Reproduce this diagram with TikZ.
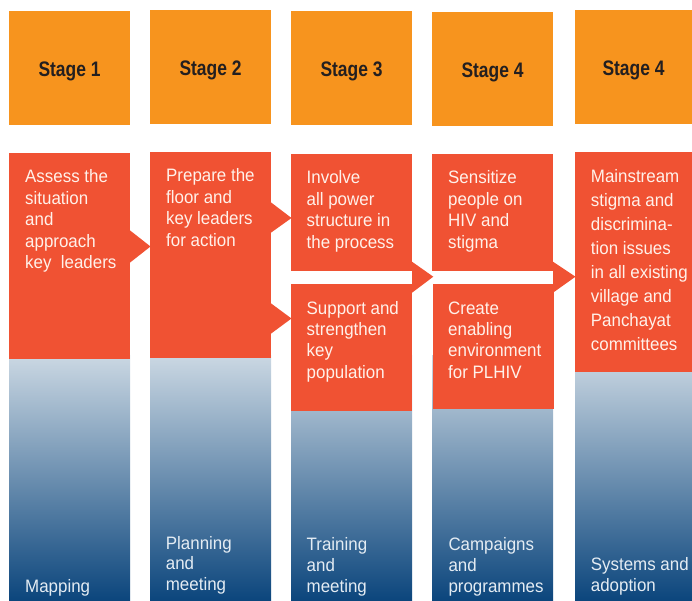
\documentclass[tikz,border=0pt]{standalone}
\usepackage{fontspec}
\setmainfont{Liberation Sans}
\newfontfamily\bodyfont{Liberation Sans}[FakeStretch=0.94]
\newfontfamily\stagefont{Liberation Sans}[FakeStretch=0.83]
\usetikzlibrary{calc}
\definecolor{stageorange}{HTML}{F7941E}
\definecolor{stepred}{HTML}{F05233}
\definecolor{stagetext}{HTML}{231F20}
\definecolor{redtext}{HTML}{FFF1EA}
\definecolor{bluetext}{HTML}{E4ECF3}
\definecolor{gradtop}{HTML}{CBD8E3}
\definecolor{gradbot}{HTML}{0B457C}
\tikzset{
  plainbox/.style={rectangle, inner sep=0pt, outer sep=0pt, draw=none},
  stagebox/.style={plainbox, fill=stageorange, minimum width=121pt, minimum height=114pt},
  redbox/.style={plainbox, fill=stepred, minimum width=121pt},
  gradcol/.style={plainbox, top color=gradtop, bottom color=gradbot, minimum width=121pt, minimum height=246pt},
  stagelabel/.style={inner sep=0pt, text=stagetext, font=\stagefont\bfseries\fontsize{21}{24}\selectfont, anchor=base},
  redlabel/.style={inner sep=0pt, text=redtext, align=left, anchor=base west, font=\bodyfont\fontsize{18}{21.4}\selectfont},
  bluelabel/.style={inner sep=0pt, text=bluetext, align=left, anchor=base west, font=\bodyfont\fontsize{18}{20.8}\selectfont},
  notch/.style={fill=stepred}
}
\begin{document}
\begin{tikzpicture}[x=1pt,y=-1pt]
\useasboundingbox (0,0) rectangle (692,601);

% stage header boxes
\node[stagebox] (s1) at (69.5,68) {};
\node[stagebox] (s2) at (210.5,67) {};
\node[stagebox] (s3) at (351.5,68) {};
\node[stagebox] (s4) at (492.5,69) {};
\node[stagebox, minimum width=117pt] (s5) at (633.5,67) {};
\node[stagelabel] (sl1) at ($(s1.center)+(0,8.3)$) {Stage 1};
\node[stagelabel] (sl2) at ($(s2.center)+(0,8.5)$) {Stage 2};
\node[stagelabel] (sl3) at ($(s3.center)+(0,8.3)$) {Stage 3};
\node[stagelabel] (sl4) at ($(s4.center)+(0,8.3)$) {Stage 4};
\node[stagelabel] (sl5) at ($(s5.center)+(0,8.5)$) {Stage 4};

% gradient columns
\node[gradcol] (g1) at (69.5,478) {};
\node[gradcol] (g2) at (210.5,478) {};
\node[gradcol] (g3) at (351.5,478) {};
\node[gradcol] (g4) at (492.5,478) {};
\node[gradcol, minimum width=117pt] (g5) at (633.5,478) {};

% red step boxes
\node[redbox, minimum height=206pt] (r1) at (69.5,256) {};
\node[redbox, minimum height=206pt] (r2) at (210.5,255) {};
\node[redbox, minimum height=117pt] (r3a) at (351.5,212.5) {};
\node[redbox, minimum height=127pt] (r3b) at (351.5,347.5) {};
\node[redbox, minimum height=117pt] (r4a) at (492.5,212.5) {};
\node[redbox, minimum height=125pt] (r4b) at (493.5,346.5) {};
\node[redbox, minimum width=117pt, minimum height=220pt] (r5) at (633.5,262) {};

% arrow notches (connectors)
\fill[notch] ($(r1.north east)+(-0.5,77)$) -- ($(r2.north west)+(0.5,94.5)$) -- ($(r1.north east)+(-0.5,110)$) -- cycle;
\fill[notch] ($(r2.north east)+(-0.5,50)$) -- ($(r3a.north west)+(0.5,64)$) -- ($(r2.north east)+(-0.5,81)$) -- cycle;
\fill[notch] ($(r2.north east)+(-0.5,151)$) -- ($(r3b.north west)+(0.5,34.5)$) -- ($(r2.north east)+(-0.5,182)$) -- cycle;
\fill[notch] ($(r3a.north east)+(0,107.7)$) -- ($(r4a.north west)+(1.3,122.7)$) -- ($(r3a.north east)+(0,138.7)$) -- cycle;
\fill[notch] ($(r4a.north east)+(0,107.7)$) -- ($(r5.north west)+(0.5,124.7)$) -- ($(r4a.north east)+(0,138.7)$) -- cycle;

% texts in red boxes (anchor = baseline of the last line)
\node[redlabel] (t1) at ($(r1.north west)+(16,115.6)$) {Assess the\\situation\\and\\approach\\key\ \ leaders};
\node[redlabel] (t2) at ($(r2.north west)+(16,94.2)$) {Prepare the\\floor and\\key leaders\\for action};
\node[redlabel] (t3a) at ($(r3a.north west)+(15.5,94.2)$) {Involve\\all power\\structure in\\the process};
\node[redlabel] (t3b) at ($(r3b.north west)+(15.5,94.2)$) {Support and\\strengthen\\key\\population};
\node[redlabel] (t4a) at ($(r4a.north west)+(16,94.2)$) {Sensitize\\people on\\HIV and\\stigma};
\node[redlabel] (t4b) at ($(r4b.north west)+(15,94.2)$) {Create\\enabling\\environment\\for PLHIV};
\node[redlabel, font=\bodyfont\fontsize{18}{24}\selectfont] (t5) at ($(r5.north west)+(15.7,198.7)$) {Mainstream\\stigma and\\discrimina-\\tion issues\\in all existing\\village and\\Panchayat\\committees};

% texts in gradient columns
\node[bluelabel] (b1) at (25,592.5) {Mapping};
\node[bluelabel] (b2) at (165.7,590.7) {Planning\\and\\meeting};
\node[bluelabel] (b3) at (306.5,592.5) {Training\\and\\meeting};
\node[bluelabel] (b4) at (448.3,592.5) {Campaigns\\and\\programmes};
\node[bluelabel] (b5) at (590.7,591) {Systems and\\adoption};
\end{tikzpicture}
\end{document}
